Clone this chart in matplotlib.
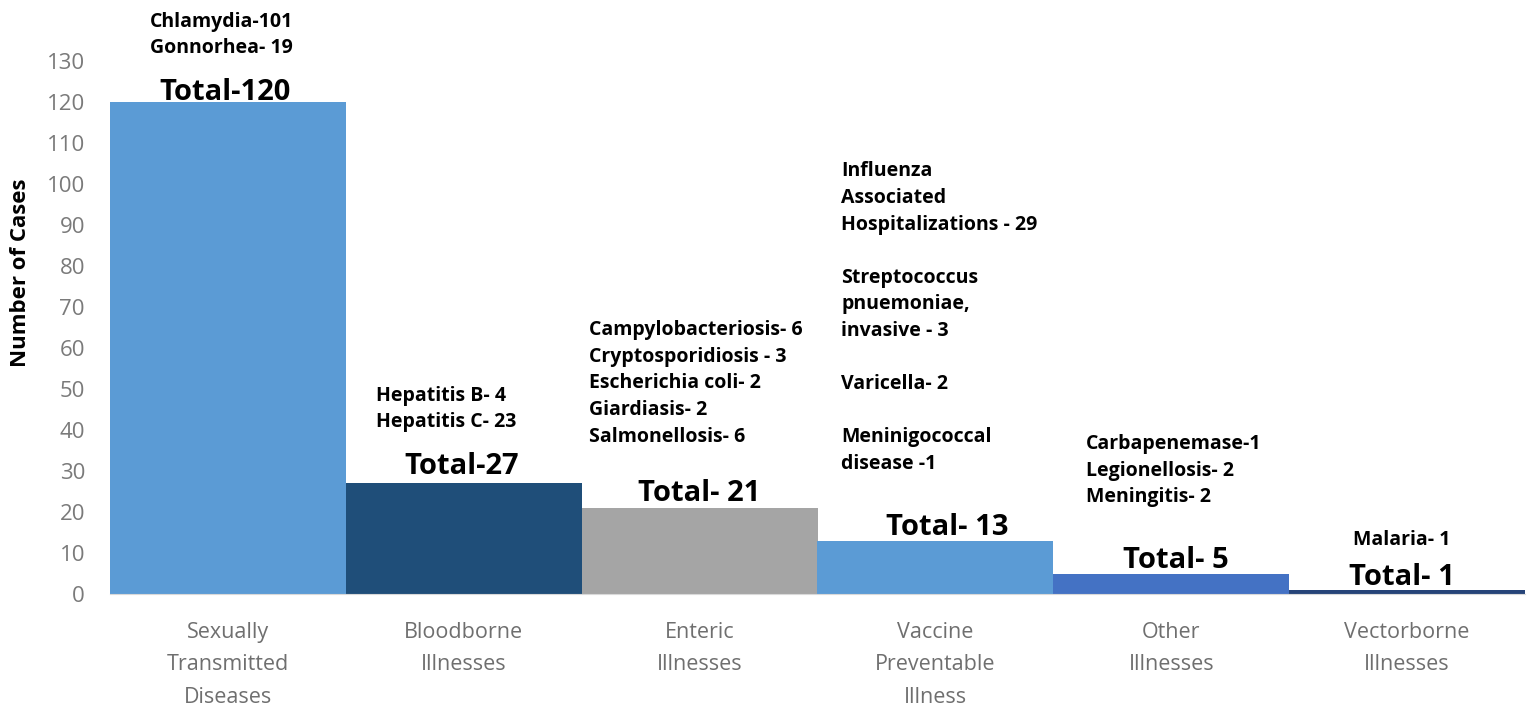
import matplotlib.pyplot as plt

plt.rcParams['font.family'] = ['Open Sans', 'DejaVu Sans']

categories = ['Sexually\nTransmitted\nDiseases', 'Bloodborne\nIllnesses', 'Enteric\nIllnesses',
              'Vaccine\nPreventable\nIllness', 'Other\nIllnesses', 'Vectorborne\nIllnesses']
totals = [120, 27, 21, 13, 5, 1]
total_labels = ['Total-120', 'Total-27', 'Total- 21', 'Total- 13', 'Total- 5', 'Total- 1']
details = [
    'Chlamydia-101\nGonnorhea- 19',
    'Hepatitis B- 4\nHepatitis C- 23',
    'Campylobacteriosis- 6\nCryptosporidiosis - 3\nEscherichia coli- 2\nGiardiasis- 2\nSalmonellosis- 6',
    'Influenza\nAssociated\nHospitalizations - 29\n\nStreptococcus\npnuemoniae,\ninvasive - 3\n\n'
    'Varicella- 2\n\nMeninigococcal\ndisease -1',
    'Carbapenemase-1\nLegionellosis- 2\nMeningitis- 2',
    'Malaria- 1',
]
colors = ['#5B9BD5', '#1F4E79', '#A5A5A5', '#5B9BD5', '#4472C4', '#264478']

# label placement (x offset from bar centre, y top in data units)
detail_pos = [(-0.33, 142.0), (-0.37, 50.8), (-0.47, 66.8), (-0.40, 105.5), (-0.36, 39.0), (-0.23, 15.5)]
total_pos = [(-0.01, 118.8), (-0.01, 27.5), (0.0, 21.0), (0.05, 12.6), (0.02, 4.7), (-0.02, 0.6)]

fig = plt.figure(figsize=(15.31, 7.06), dpi=100)
ax = fig.add_axes([110 / 1531, 112 / 706, 1415 / 1531, 533 / 706])

x = range(len(categories))
ax.bar(x, totals, width=1.0, color=colors)

for i in x:
    dx, dy = detail_pos[i]
    ax.text(i + dx, dy, details[i], ha='left', va='top', fontsize=14,
            fontweight='bold', linespacing=1.44, clip_on=False)
    tx, ty = total_pos[i]
    ax.text(i + tx, ty, total_labels[i], ha='center', va='bottom', fontsize=21,
            fontweight='bold', clip_on=False)

ax.set_xlim(-0.5, len(categories) - 0.5)
ax.set_ylim(0, 130)
ax.set_yticks(range(0, 131, 10))
ax.set_xticks(list(x))
ax.set_xticklabels(categories, fontsize=15.5, color='#6F6F6F', linespacing=1.72)
ax.tick_params(axis='y', length=0, pad=18, labelsize=16, labelcolor='#7A7A7A')
ax.tick_params(axis='x', length=0, pad=20)
for s in ['top', 'right', 'left']:
    ax.spines[s].set_visible(False)
ax.spines['bottom'].set_color('#D9D9D9')
ax.set_ylabel('Number of Cases', fontsize=16, fontweight='bold')
ax.yaxis.set_label_coords(-0.056, 0.602)

fig.savefig('out.png', dpi=100)
